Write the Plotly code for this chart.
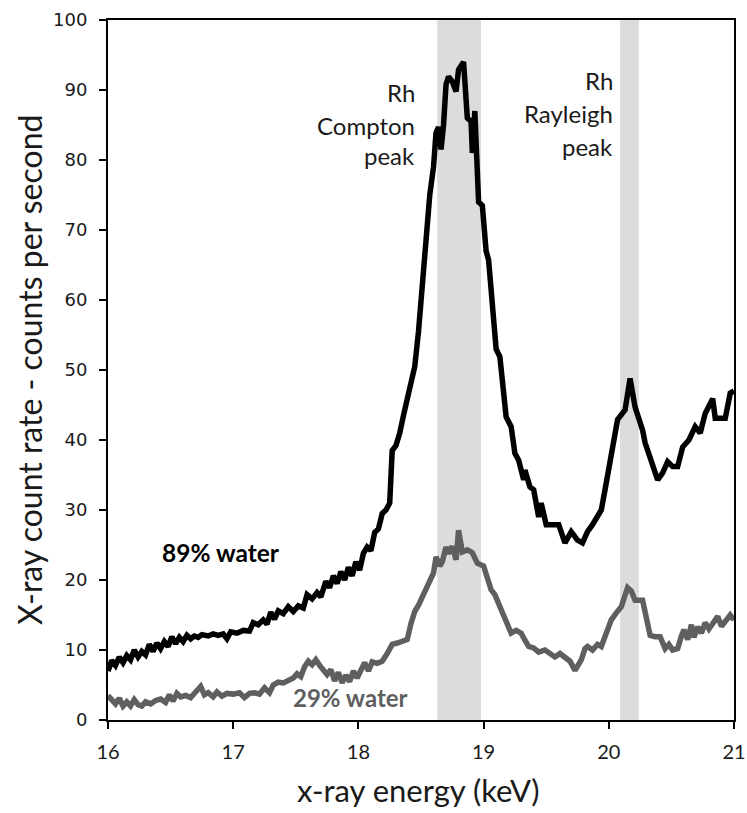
import plotly.graph_objects as go

# ---------------- data ----------------
energy_89 = [16.00, 16.03, 16.06, 16.09, 16.12, 16.15, 16.18, 16.21, 16.24, 16.27, 16.30, 16.33, 16.36, 16.39,
             16.42, 16.45, 16.48, 16.51, 16.54, 16.57, 16.60, 16.63, 16.66, 16.69, 16.72, 16.75, 16.80, 16.84,
             16.88, 16.92, 16.95, 16.98, 17.03, 17.08, 17.13, 17.16, 17.20, 17.24, 17.27, 17.30, 17.33, 17.36,
             17.40, 17.44, 17.48, 17.52, 17.56, 17.59, 17.63, 17.67, 17.70, 17.74, 17.77, 17.80, 17.83, 17.86,
             17.89, 17.92, 17.95, 17.98, 18.01, 18.04, 18.07, 18.10, 18.13, 18.16, 18.19, 18.22, 18.25, 18.27,
             18.30, 18.33, 18.36, 18.39, 18.42, 18.45, 18.48, 18.51, 18.54, 18.57, 18.60, 18.62, 18.64, 18.66,
             18.68, 18.70, 18.72, 18.75, 18.78, 18.80, 18.84, 18.87, 18.90, 18.91, 18.93, 18.96, 18.99, 19.02,
             19.04, 19.06, 19.08, 19.10, 19.13, 19.16, 19.18, 19.22, 19.25, 19.28, 19.32, 19.33, 19.37, 19.40,
             19.44, 19.46, 19.50, 19.60, 19.65, 19.70, 19.75, 19.79, 19.83, 19.87, 19.94, 19.97, 20.02, 20.07,
             20.13, 20.17, 20.21, 20.27, 20.29, 20.33, 20.39, 20.43, 20.47, 20.51, 20.55, 20.59, 20.64, 20.69,
             20.73, 20.77, 20.83, 20.85, 20.93, 20.97, 21.00]
rate_89 = [7.0, 8.5, 7.8, 9.0, 8.2, 9.2, 8.6, 10.0, 9.0, 9.8, 9.3, 10.8, 9.8, 11.0,
           10.2, 11.2, 10.5, 11.9, 10.9, 11.8, 11.2, 12.1, 11.6, 12.0, 11.8, 12.2, 12.0, 12.3,
           12.1, 12.3, 11.6, 12.6, 12.4, 12.8, 12.7, 13.9, 13.6, 14.3, 13.7, 15.4, 14.4, 15.6,
           15.2, 16.2, 15.5, 16.3, 16.0, 17.9, 17.3, 18.2, 17.6, 19.8, 18.9, 20.6, 19.5, 21.2,
           20.0, 21.8, 20.6, 22.6, 21.4, 23.8, 24.7, 24.2, 26.8, 27.3, 29.5, 30.0, 31.0, 38.5,
           39.2, 41.0, 43.5, 45.8, 47.8, 50.5, 55.5, 62.0, 69.0, 75.0, 79.0, 83.9, 84.7, 81.5,
           85.0, 90.8, 91.9, 91.2, 89.8, 92.9, 94.0, 86.0, 85.5, 81.0, 87.0, 74.0, 73.5, 67.0,
           65.7, 61.5, 56.5, 53.0, 51.9, 47.6, 43.3, 41.9, 38.1, 37.1, 34.3, 35.7, 33.3, 32.9,
           29.0, 31.0, 27.9, 27.9, 25.3, 26.9, 25.7, 25.3, 26.9, 27.9, 30.0, 32.9, 38.0, 42.9,
           44.3, 48.8, 44.7, 41.4, 39.6, 37.6, 34.3, 35.3, 36.9, 36.2, 36.2, 39.0, 40.0, 41.9,
           41.0, 43.8, 45.9, 43.1, 43.1, 46.7, 47.0]

energy_29 = [16.00, 16.03, 16.06, 16.09, 16.12, 16.15, 16.18, 16.21, 16.24, 16.27, 16.30, 16.34, 16.38, 16.42,
             16.46, 16.49, 16.52, 16.55, 16.58, 16.62, 16.66, 16.70, 16.74, 16.77, 16.80, 16.84, 16.87, 16.91,
             16.95, 17.00, 17.05, 17.09, 17.13, 17.17, 17.21, 17.25, 17.29, 17.32, 17.36, 17.40, 17.44, 17.48,
             17.51, 17.54, 17.57, 17.60, 17.63, 17.66, 17.69, 17.72, 17.75, 17.78, 17.81, 17.84, 17.87, 17.90,
             17.93, 17.96, 17.99, 18.02, 18.05, 18.08, 18.11, 18.15, 18.19, 18.23, 18.27, 18.31, 18.35, 18.39,
             18.42, 18.45, 18.48, 18.51, 18.54, 18.57, 18.60, 18.62, 18.65, 18.67, 18.70, 18.72, 18.75, 18.78,
             18.80, 18.83, 18.87, 18.91, 18.95, 19.00, 19.04, 19.06, 19.09, 19.12, 19.15, 19.17, 19.20, 19.22,
             19.26, 19.30, 19.33, 19.36, 19.40, 19.44, 19.49, 19.53, 19.57, 19.61, 19.65, 19.69, 19.73, 19.76,
             19.78, 19.81, 19.83, 19.87, 19.91, 19.94, 19.98, 20.02, 20.06, 20.10, 20.15, 20.18, 20.21, 20.27,
             20.30, 20.33, 20.37, 20.41, 20.45, 20.48, 20.51, 20.55, 20.58, 20.60, 20.63, 20.66, 20.68, 20.71,
             20.74, 20.77, 20.80, 20.84, 20.87, 20.90, 20.94, 20.97, 21.00]
rate_29 = [3.5, 3.0, 2.3, 3.1, 2.0, 2.6, 2.0, 2.9, 2.2, 2.0, 2.6, 2.3, 2.8, 3.0,
           2.5, 3.6, 2.7, 3.8, 3.3, 3.5, 3.2, 4.0, 4.8, 3.6, 3.9, 3.3, 4.0, 3.4,
           3.8, 3.7, 3.9, 3.2, 3.8, 3.9, 3.7, 4.6, 3.9, 5.0, 5.4, 5.3, 5.6, 6.0,
           6.6, 6.2, 7.6, 8.4, 7.9, 8.6, 7.8, 7.0, 6.5, 7.2, 5.6, 6.8, 5.3, 6.4,
           5.5, 7.0, 6.0, 7.1, 8.2, 7.0, 8.3, 8.1, 8.4, 9.5, 10.8, 11.0, 11.2, 11.5,
           13.8, 15.5, 16.4, 17.5, 18.6, 20.0, 21.0, 23.3, 22.0, 22.6, 24.7, 23.8, 24.8, 22.9,
           27.1, 24.0, 24.3, 23.9, 22.4, 22.0, 20.0, 18.6, 17.9, 16.7, 15.2, 14.3, 13.5, 12.4,
           12.8, 12.4, 11.4, 10.5, 10.3, 9.7, 10.0, 9.4, 9.0, 9.5, 9.0, 8.4, 7.1, 8.0,
           8.6, 10.2, 10.5, 10.0, 10.8, 10.5, 12.2, 14.3, 15.3, 16.2, 18.9, 18.4, 17.1, 17.1,
           14.6, 12.1, 11.9, 11.9, 10.2, 10.8, 10.0, 10.2, 12.0, 12.9, 11.5, 13.6, 11.8, 13.3,
           12.4, 13.9, 13.0, 14.0, 14.8, 13.4, 14.2, 15.0, 14.3]

band_names = ["Compton", "Rayleigh"]
band_start = [18.63, 20.09]
band_end = [18.98, 20.24]

x_ticks = [16, 17, 18, 19, 20, 21]
y_ticks = [0, 10, 20, 30, 40, 50, 60, 70, 80, 90, 100]

# ---------------- figure ----------------
BLACK = "#000000"
GRAY = "#5f5f5f"
BAND = "#dcdcdc"
TXTC = "#1a1a1a"
TXT = "Lato, 'Open Sans', sans-serif"

fig = go.Figure()
fig.add_trace(go.Scatter(x=energy_29, y=rate_29, mode="lines",
                         line=dict(color=GRAY, width=5.5), name="29% water", showlegend=False))
fig.add_trace(go.Scatter(x=energy_89, y=rate_89, mode="lines",
                         line=dict(color=BLACK, width=5.5), name="89% water", showlegend=False))

for s, e in zip(band_start, band_end):
    fig.add_vrect(x0=s, x1=e, fillcolor=BAND, opacity=1, line_width=0, layer="below")

ann_font = dict(family=TXT, size=24, color=TXTC)
compton_lines = ["Rh", "Compton", "peak"]
compton_y = [89.6, 85.0, 80.6]
for t, yy in zip(compton_lines, compton_y):
    fig.add_annotation(x=18.47, y=yy, text=t, showarrow=False, xanchor="right",
                       yanchor="middle", font=ann_font)
rayleigh_lines = ["Rh", "Rayleigh", "peak"]
rayleigh_y = [91.4, 86.7, 82.0]
for t, yy in zip(rayleigh_lines, rayleigh_y):
    fig.add_annotation(x=20.05, y=yy, text=t, showarrow=False, xanchor="right",
                       yanchor="middle", font=ann_font)

fig.add_annotation(x=16.906, y=23.9, text="<b>89% water</b>", showarrow=False,
                   xanchor="center", yanchor="middle", font=dict(family=TXT, size=24.5, color=BLACK))
fig.add_annotation(x=17.94, y=3.2, text="<b>29% water</b>", showarrow=False,
                   xanchor="center", yanchor="middle", font=dict(family=TXT, size=24, color=GRAY))

# axis titles as annotations for exact placement
fig.add_annotation(x=0.5, y=0, xref="paper", yref="paper", text="x-ray energy (keV)",
                   showarrow=False, xanchor="center", yanchor="middle", yshift=-70, xshift=-3,
                   font=dict(family=TXT, size=31, color=TXTC))
fig.add_annotation(x=0, y=0.5, xref="paper", yref="paper", text="X-ray count rate - counts per second",
                   showarrow=False, xanchor="center", yanchor="middle", xshift=-79, textangle=-90,
                   font=dict(family=TXT, size=32, color=TXTC))

fig.update_layout(
    template="none",
    width=747, height=813,
    margin=dict(l=108, r=13, t=20, b=93, pad=0),
    paper_bgcolor="white", plot_bgcolor="white",
    showlegend=False,
)
fig.update_xaxes(
    range=[16, 21], tickvals=x_ticks, ticktext=[str(v) for v in x_ticks],
    showgrid=False, zeroline=False, automargin=False,
    showline=True, linecolor="black", linewidth=2, mirror=True,
    ticks="outside", ticklen=7, tickwidth=2, tickcolor="black",
    ticklabelstandoff=6, ticklabeloverflow="allow",
    tickfont=dict(family=TXT, size=20, color=TXTC),
)
fig.update_yaxes(
    range=[0, 100], tickvals=y_ticks, ticktext=[str(v) for v in y_ticks],
    showgrid=False, zeroline=False, automargin=False,
    showline=True, linecolor="black", linewidth=2, mirror=True,
    ticks="outside", ticklen=7, tickwidth=2, tickcolor="black",
    ticklabelstandoff=8, ticklabeloverflow="allow",
    tickfont=dict(family="DejaVu Sans", size=18, color=TXTC),
)

fig.write_html("out.html")
